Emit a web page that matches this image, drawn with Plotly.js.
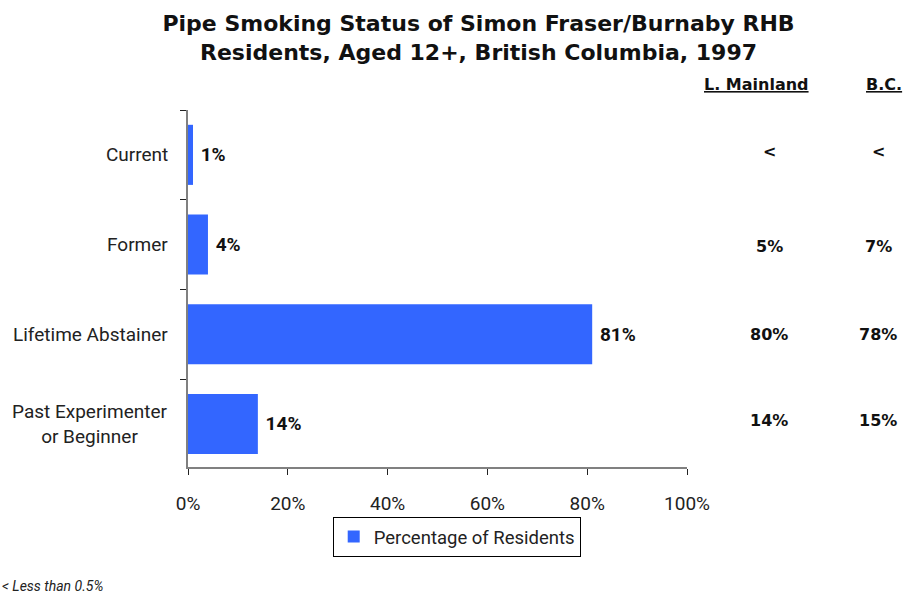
<!DOCTYPE html>
<html>
<head>
<meta charset="utf-8">
<script src="https://cdn.plot.ly/plotly-3.0.1.min.js"></script>
<style>
  body { margin: 0; background: #fff; }
  #chart { width: 908px; height: 596px; }
</style>
</head>
<body>
<div id="chart"></div>
<script>
// Data
var categories = ["Current", "Former", "Lifetime Abstainer", "Past Experimenter<br>or Beginner"];
var residents = [1, 4, 81, 14];
var mainland = ["<", "5%", "80%", "14%"];
var bc = ["<", "7%", "78%", "15%"];

var barColor = "#3366ff";

var trace = {
    type: "bar",
    orientation: "h",
    x: residents,
    y: categories,
    name: "Percentage of Residents",
    marker: { color: barColor },
    width: 0.67,
    text: residents.map(function (v) { return "&nbsp;<b>" + v + "%</b>"; }),
    textposition: "outside",
    cliponaxis: false,
    textfont: { family: "Roboto", size: 19, color: "#111" },
    hoverinfo: "skip"
};

// category labels, centered lines like the original
var annotations = [];
categories.forEach(function (c) {
    annotations.push({
        xref: "paper", yref: "y", x: -0.036, y: c,
        xanchor: "right", align: "center",
        text: c, showarrow: false,
        font: { family: "Roboto", size: 19, color: "#222" }
    });
});

// comparison columns
var colShift = [3, -2, 0, 3];
var colFont = { family: "DejaVu Sans", size: 16, color: "#111" };
categories.forEach(function (c, i) {
    annotations.push({
        xref: "paper", yref: "y", x: 1.165, y: c, yshift: colShift[i],
        xanchor: "center",
        text: "<b>" + mainland[i] + "</b>", showarrow: false,
        font: colFont
    });
    annotations.push({
        xref: "paper", yref: "y", x: 1.383, y: c, yshift: colShift[i],
        xanchor: "center",
        text: "<b>" + bc[i] + "</b>", showarrow: false,
        font: colFont
    });
});

annotations.push({
    xref: "paper", yref: "paper", x: 1.139, y: 1.104, xanchor: "center",
    text: "<b><u>L. Mainland</u></b>", showarrow: false,
    font: colFont
});
annotations.push({
    xref: "paper", yref: "paper", x: 1.395, y: 1.104, xanchor: "center",
    text: "<b><u>B.C.</u></b>", showarrow: false,
    font: colFont
});

// footnote
annotations.push({
    xref: "paper", yref: "paper", x: -0.376, y: -0.36, xanchor: "left",
    text: "<i>< Less than 0.5%</i>", showarrow: false,
    font: { family: "Roboto", size: 14, color: "#222" }
});

var layout = {
    width: 908,
    height: 596,
    margin: { l: 188, r: 221, t: 110, b: 129 },
    paper_bgcolor: "#fff",
    plot_bgcolor: "#fff",
    title: {
        text: "<b>Pipe Smoking Status of Simon Fraser/Burnaby RHB<br>Residents, Aged 12+, British Columbia, 1997</b>",
        x: 0.527, xanchor: "center", y: 0.948, yanchor: "middle",
        font: { family: "DejaVu Sans", size: 22, color: "#111" }
    },
    xaxis: {
        range: [0, 100],
        tickvals: [0, 20, 40, 60, 80, 100],
        ticktext: ["0%", "20%", "40%", "60%", "80%", "100%"],
        ticks: "outside", ticklen: 6, tickcolor: "#222",
        ticklabelstandoff: 12,
        showline: true, linecolor: "#808080", linewidth: 2,
        showgrid: false, zeroline: false,
        tickfont: { family: "Roboto", size: 19, color: "#222" },
        fixedrange: true
    },
    yaxis: {
        showticklabels: false,
        tickmode: "array",
        tickvals: [-0.5, 0.5, 1.5, 2.5],
        ticks: "outside", ticklen: 6, tickcolor: "#222",
        showline: true, linecolor: "#808080", linewidth: 2,
        showgrid: false, zeroline: false,
        range: [3.48, -0.5],
        fixedrange: true
    },
    showlegend: true,
    legend: {
        orientation: "h",
        x: 0.29, y: -0.14, xanchor: "left", yanchor: "top",
        bordercolor: "#000", borderwidth: 1,
        font: { family: "Roboto", size: 18.5, color: "#222" },
        itemwidth: 30
    },
    annotations: annotations
};

Plotly.newPlot("chart", [trace], layout, { displayModeBar: false, staticPlot: true });
</script>
</body>
</html>
